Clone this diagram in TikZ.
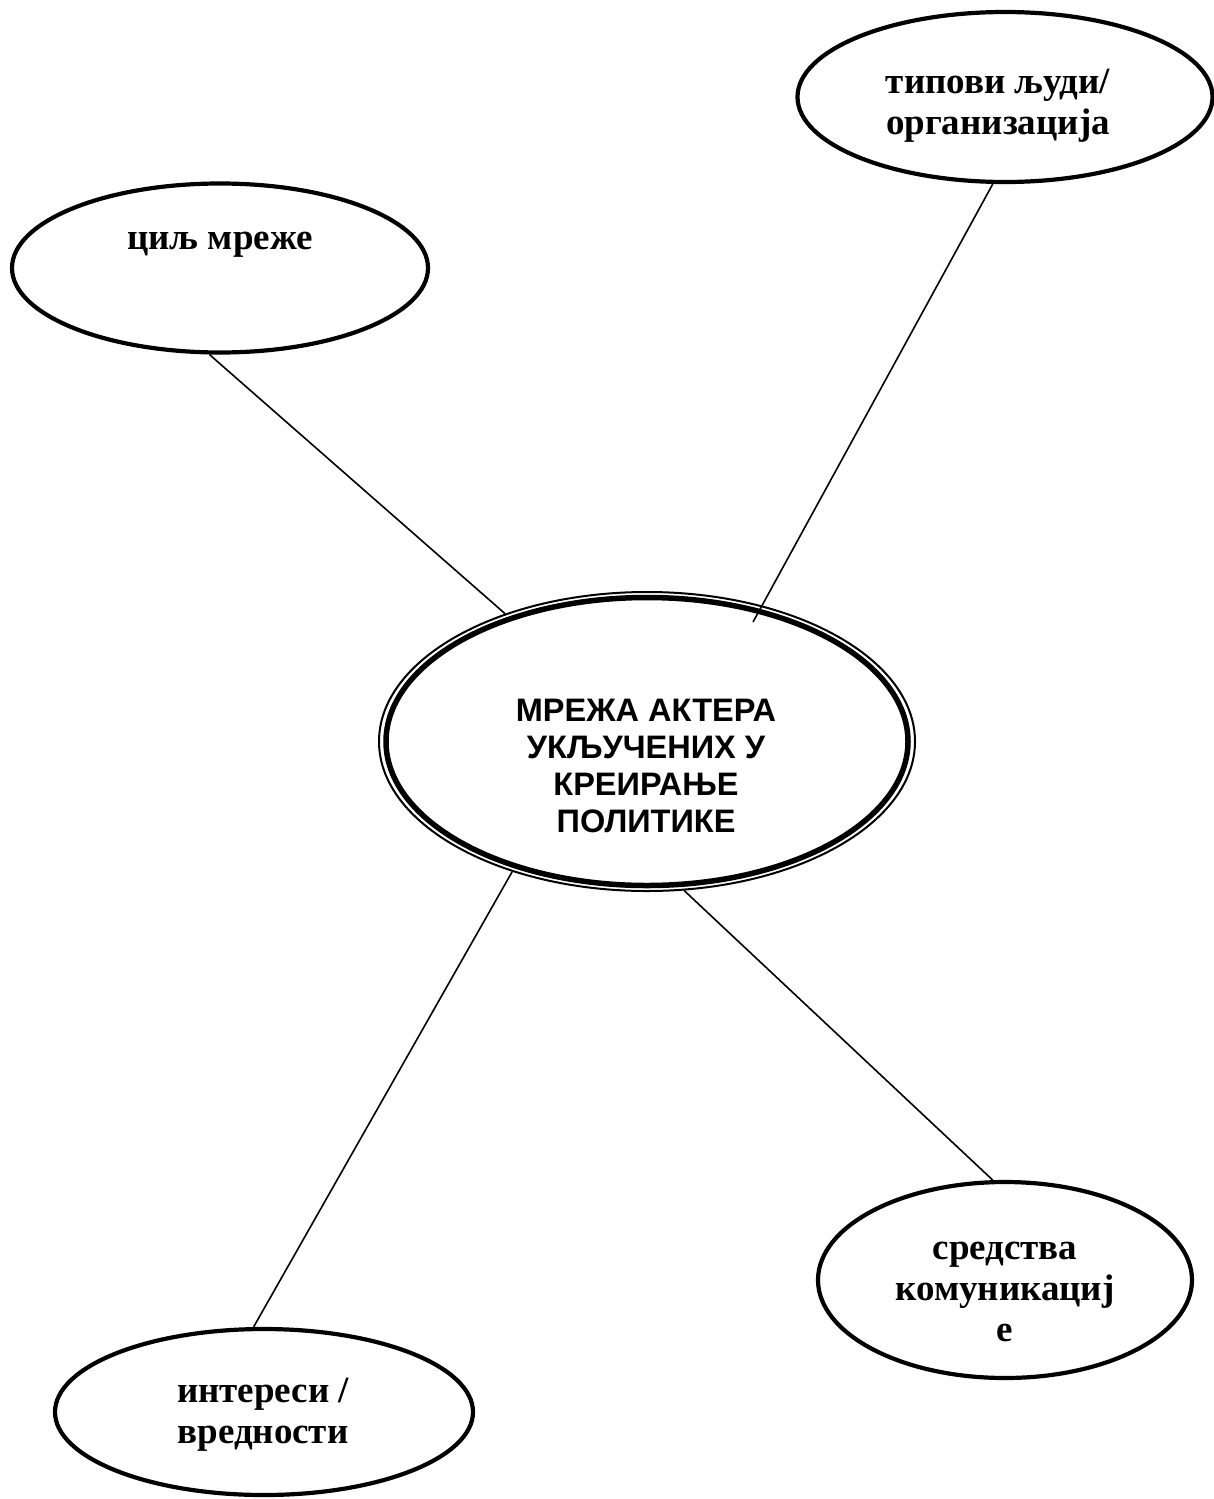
\documentclass[tikz,border=0pt]{standalone}
\usepackage{fontspec}
\setmainfont{Liberation Serif}
\newfontfamily\arialfont{Liberation Sans}
\usetikzlibrary{shapes.geometric}
\tikzset{
  bubble/.style={ellipse, draw, line width=4.2pt, inner sep=0pt},
  serifbold/.style={font=\fontsize{37}{41}\selectfont\bfseries, align=center, inner sep=0pt},
  centretext/.style={font=\arialfont\fontsize{32.5}{37}\selectfont\bfseries, align=center, inner sep=0pt},
  link/.style={line width=1.6pt}
}
\begin{document}
\begin{tikzpicture}[x=1pt,y=-1pt]
\useasboundingbox (0,0) rectangle (1214,1499);
% central triple-line ellipse
\node[ellipse, draw, line width=2pt, minimum width=536pt, minimum height=299pt, inner sep=0pt] (centre) at (647,741.5) {};
\node[ellipse, draw, line width=5.5pt, minimum width=522pt, minimum height=288pt, inner sep=0pt] (centrein) at (647,741.5) {};
\node[centretext] (centrelbl) at (646,766) {МРЕЖА АКТЕРА\\УКЉУЧЕНИХ У\\КРЕИРАЊЕ\\ПОЛИТИКЕ};
% satellite ellipses
\node[bubble, minimum width=415pt, minimum height=170pt] (tipovi) at (1005,97) {};
\node[serifbold] (tipovilbl) at (998,106) {типови људи/\\организација};
\node[bubble, minimum width=416pt, minimum height=169pt] (cilj) at (220,268) {};
\node[serifbold] (ciljlbl) at (220,245) {циљ мреже};
\node[bubble, minimum width=374pt, minimum height=196pt] (sredstva) at (1005,1280) {};
\node[serifbold] (sredstvalbl) at (1005,1292) {средства\\комуникациј\\е};
\node[bubble, minimum width=418pt, minimum height=166pt] (interesi) at (264,1412) {};
\node[serifbold] (interesilbl) at (263,1415) {интереси /\\вредности};
% connectors
\coordinate (tipend) at (753,622);
\draw[link] (cilj.263) -- (centre.138);
\draw[link] (tipovi.262) -- (tipend);
\draw[link] (centre.224) -- (interesi.97.5);
\draw[link] (centre.284) -- (sredstva.97);
\end{tikzpicture}
\end{document}
